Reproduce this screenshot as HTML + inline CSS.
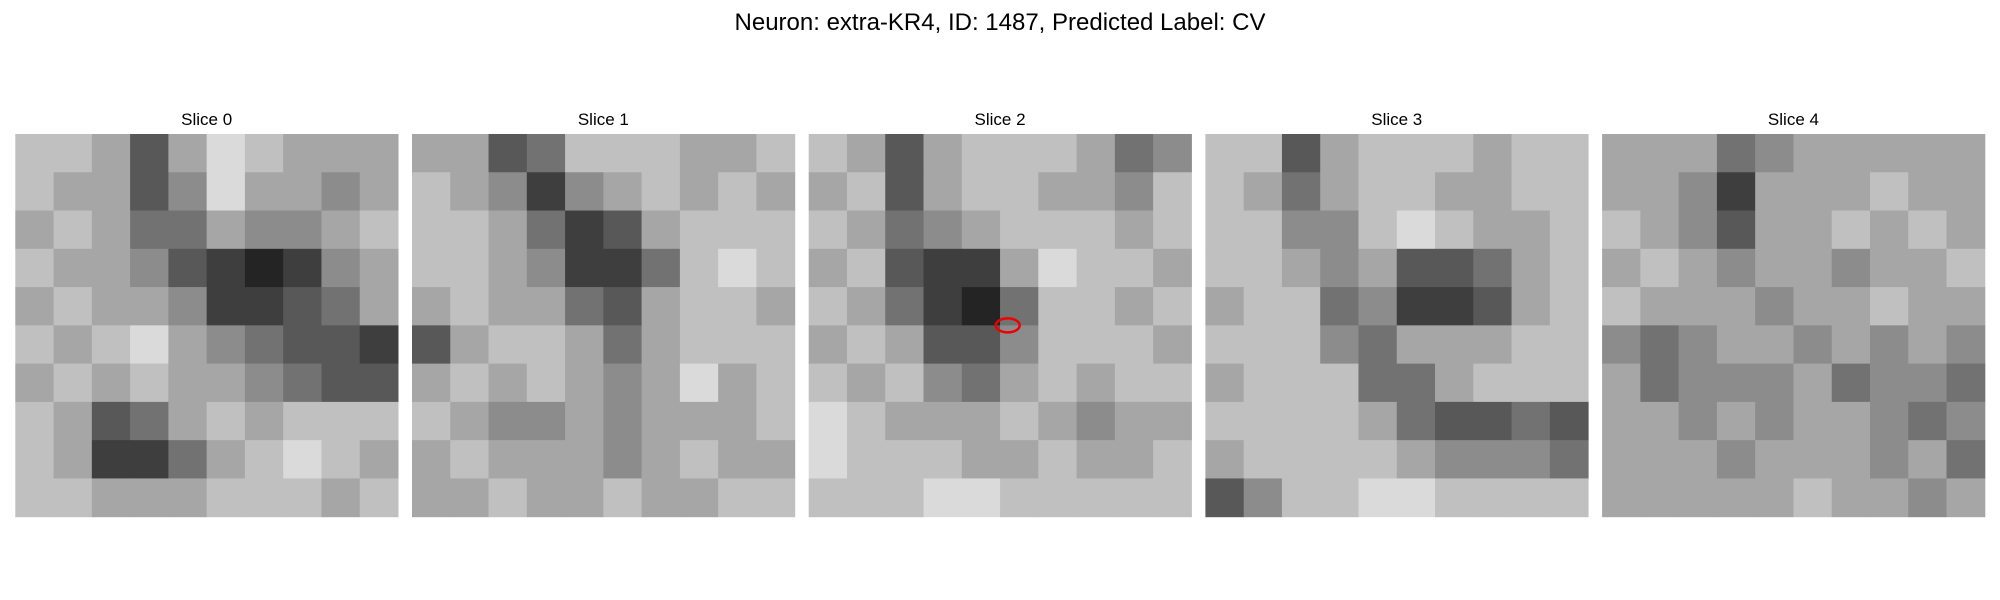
<!DOCTYPE html>
<html><head><meta charset="utf-8"><style>
html,body{margin:0;padding:0;background:#fff;}
svg{display:block;font-family:"Liberation Sans","DejaVu Sans",sans-serif;}
</style></head><body>
<svg id="fig" width="2000" height="600" viewBox="0 0 2000 600">
<text x="1000" y="30" text-anchor="middle" font-size="24" fill="#000">Neuron: extra-KR4, ID: 1487, Predicted Label: CV</text>
<g id="panels"></g>
</svg>
<script>
const sliceTitles = ["Slice 0","Slice 1","Slice 2","Slice 3","Slice 4"];
const slice0 = [
[7,7,6,3,6,8,7,6,6,6],[7,6,6,3,5,8,6,6,5,6],[6,7,6,4,4,6,5,5,6,7],[7,6,6,5,3,2,1,2,5,6],[6,7,6,6,5,2,2,3,4,6],
[7,6,7,8,6,5,4,3,3,2],[6,7,6,7,6,6,5,4,3,3],[7,6,3,4,6,7,6,7,7,7],[7,6,2,2,4,6,7,8,7,6],[7,7,6,6,6,7,7,7,6,7]];
const slice1 = [
[6,6,3,4,7,7,7,6,6,7],[7,6,5,2,5,6,7,6,7,6],[7,7,6,4,2,3,6,7,7,7],[7,7,6,5,2,2,4,7,8,7],[6,7,6,6,4,3,6,7,7,6],
[3,6,7,7,6,4,6,7,7,7],[6,7,6,7,6,5,6,8,6,7],[7,6,5,5,6,5,6,6,6,7],[6,7,6,6,6,5,6,7,6,6],[6,6,7,6,6,7,6,6,7,7]];
const slice2 = [
[7,6,3,6,7,7,7,6,4,5],[6,7,3,6,7,7,6,6,5,7],[7,6,4,5,6,7,7,7,6,7],[6,7,3,2,2,6,8,7,7,6],[7,6,4,2,1,4,7,7,6,7],
[6,7,6,3,3,5,7,7,7,6],[7,6,7,5,4,6,7,6,7,7],[8,7,6,6,6,7,6,5,6,6],[8,7,7,7,6,6,7,6,6,7],[7,7,7,8,8,7,7,7,7,7]];
const slice3 = [
[7,7,3,6,7,7,7,6,7,7],[7,6,4,6,7,7,6,6,7,7],[7,7,5,5,7,8,7,6,6,7],[7,7,6,5,6,3,3,4,6,7],[6,7,7,4,5,2,2,3,6,7],
[7,7,7,5,4,6,6,6,7,7],[6,7,7,7,4,4,6,7,7,7],[7,7,7,7,6,4,3,3,4,3],[6,7,7,7,7,6,5,5,5,4],[3,5,7,7,8,8,7,7,7,7]];
const slice4 = [
[6,6,6,4,5,6,6,6,6,6],[6,6,5,2,6,6,6,7,6,6],[7,6,5,3,6,6,7,6,7,6],[6,7,6,5,6,6,5,6,6,7],[7,6,6,6,5,6,6,7,6,6],
[5,4,5,6,6,5,6,5,6,5],[6,4,5,5,5,6,4,5,5,4],[6,6,5,6,5,6,6,5,4,5],[6,6,6,5,6,6,6,5,6,4],[6,6,6,6,6,7,6,6,5,6]];
const slices = [slice0,slice1,slice2,slice3,slice4];
const markerSlice = 2;
const markerPos = [0.52, 0.5];

const NS="http://www.w3.org/2000/svg";
const panelGroup=document.getElementById('panels');
const panelLeft=15.3, panelTop=134, panelSize=382.7, panelGap=14;
function gray(v){const c=Math.min(245,Math.round(10+v*26));return `rgb(${c},${c},${c})`;}
slices.forEach((data,i)=>{
  const px=panelLeft+i*(panelSize+panelGap);
  const grp=document.createElementNS(NS,'g');
  
  
  const t=document.createElementNS(NS,'text');
  
  
  t.setAttribute('x',px+panelSize/2);t.setAttribute('y',125);
  t.setAttribute('text-anchor','middle');t.setAttribute('font-size','17');
  t.textContent=sliceTitles[i];grp.appendChild(t);
  const n=data.length, cs=panelSize/n;
  data.forEach((row,r)=>row.forEach((v,c)=>{
    const rc=document.createElementNS(NS,'rect');
    
    
    rc.setAttribute('x',px+c*cs);rc.setAttribute('y',panelTop+r*cs);
    rc.setAttribute('width',cs+0.5);rc.setAttribute('height',cs+0.5);
    rc.setAttribute('fill',gray(v));grp.appendChild(rc);
  }));
  if(i===markerSlice){
    const e=document.createElementNS(NS,'ellipse');
    
    
    e.setAttribute('cx',px+markerPos[0]*panelSize);e.setAttribute('cy',panelTop+markerPos[1]*panelSize);
    e.setAttribute('rx',12);e.setAttribute('ry',7);
    e.setAttribute('fill','none');e.setAttribute('stroke','#e00');e.setAttribute('stroke-width','2.5');
    grp.appendChild(e);
  }
  panelGroup.appendChild(grp);
});
</script>
</body></html>
